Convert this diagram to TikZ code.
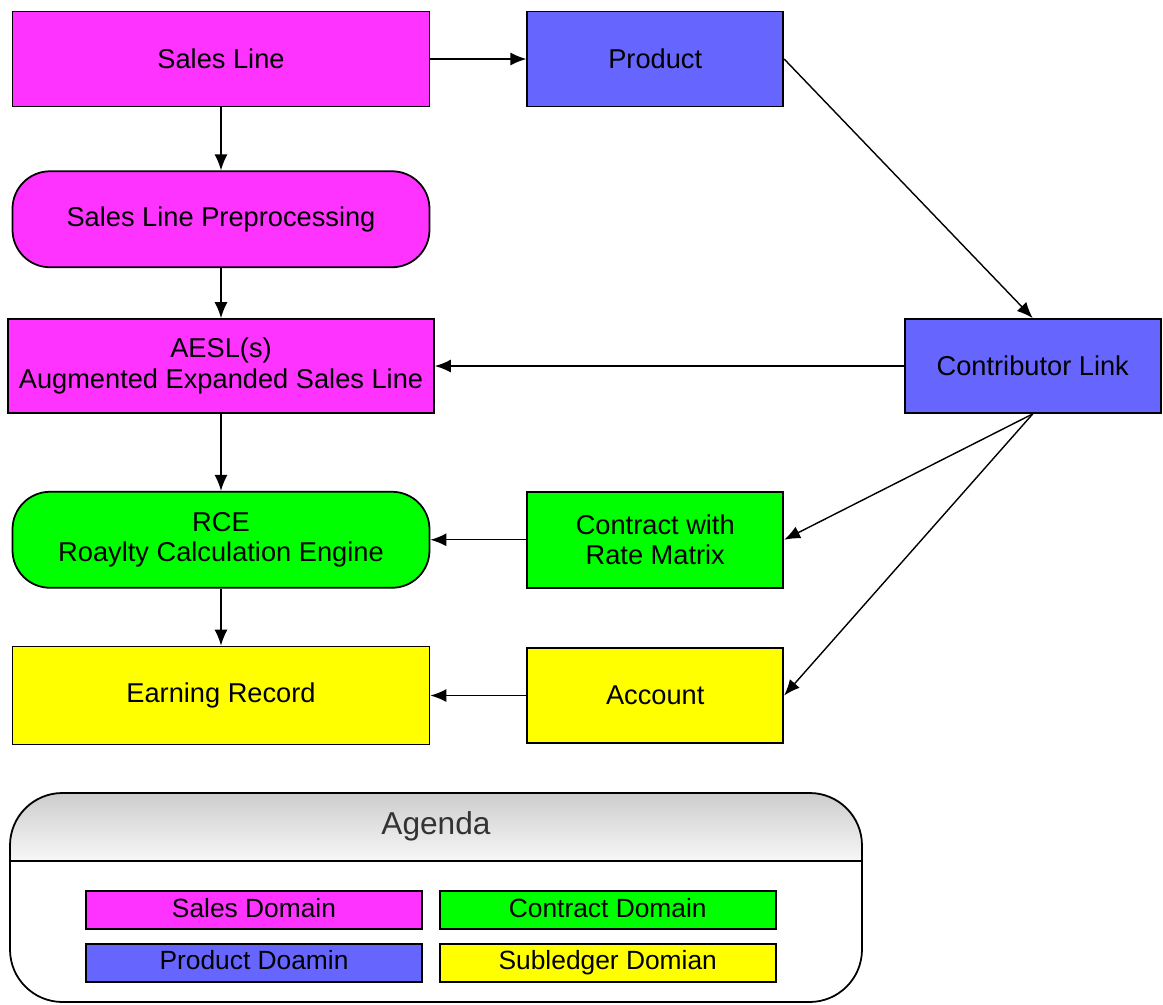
\documentclass[tikz,border=0pt]{standalone}
\usepackage{fontspec}
\setmainfont{Liberation Sans}
\usepackage{xcolor}
\usepackage{tikz}
\usetikzlibrary{arrows.meta, positioning, calc, backgrounds}
\definecolor{salesPink}{RGB}{255, 51, 255}
\definecolor{productBlue}{RGB}{102, 102, 255}
\definecolor{contractGreen}{RGB}{0, 255, 0}
\definecolor{ledgerYellow}{RGB}{255, 255, 0}

\begin{document}
\begin{tikzpicture}[
    box/.style={rectangle, draw=black, line width=1pt, minimum width=8.34cm, minimum height=1.9cm, align=center, font=\fontsize{15.5}{17.6}\selectfont, fill=#1},
    smallbox/.style={box=#1, minimum width=5.12cm},
    procbox/.style={box=#1, rounded corners=0.75cm, minimum height=1.92cm},
    legbox/.style={rectangle, draw=black, line width=1pt, minimum width=6.72cm, minimum height=0.76cm, inner sep=0pt, text height=11pt, text depth=3pt, font=\fontsize{15}{17}\selectfont, fill=#1},
    arrow/.style={-{Latex[length=3.2mm,width=2.6mm]}, line width=0.8pt}
]
\useasboundingbox (0,0) rectangle (23.26,-20.08);

% Sales side
\node[box=salesPink] (sales) at (4.42,-1.18) {Sales Line};
\node[smallbox=productBlue, right=1.92cm of sales] (product) {Product};
\node[procbox=salesPink, below=1.26cm of sales] (prep) {Sales Line Preprocessing};
\node[box=salesPink, minimum width=8.52cm, minimum height=1.88cm, below=1.0cm of prep] (aesl) {AESL(s)\\Augmented Expanded Sales Line};

% Product link
\node[smallbox=productBlue, minimum height=1.88cm, right=9.38cm of aesl] (contrib) {Contributor Link};

% Calculation
\node[procbox=contractGreen, below=1.54cm of aesl] (rce) {RCE\\Roaylty Calculation Engine};
\node[smallbox=contractGreen, minimum height=1.92cm, right=1.92cm of rce] (contract) {Contract with\\Rate Matrix};

% Subledger
\node[box=ledgerYellow, minimum height=1.96cm, below=1.14cm of rce] (earn) {Earning Record};
\node[smallbox=ledgerYellow, right=1.92cm of earn] (account) {Account};

% Arrows
\draw[arrow] (sales) -- (product);
\draw[arrow] (sales) -- (prep);
\draw[arrow] (prep) -- (aesl);
\draw[arrow] (aesl) -- (rce);
\draw[arrow] (rce) -- (earn);
\draw[arrow] (product.east) -- (contrib.north);
\draw[arrow] (contrib) -- (aesl);
\draw[arrow] (contrib.south) -- (contract.east);
\draw[arrow] (contrib.south) -- (account.east);
\draw[arrow] (contract) -- (rce);
\draw[arrow] (account) -- (earn);

% Agenda
\node[rectangle, draw=black, line width=1pt, rounded corners=1.05cm, minimum width=17.04cm, minimum height=4.18cm] (agenda) at (8.72,-17.95) {};
\coordinate (hdr) at ($(agenda.north)+(0,-1.38)$);
\begin{scope}[on background layer]
\shade[top color=gray!40, bottom color=gray!6] (agenda.west |- hdr) [rounded corners=1.05cm] -- (agenda.north west) -- (agenda.north east) [sharp corners] -- (agenda.east |- hdr) -- cycle;
\end{scope}
\draw[line width=1pt] (agenda.west |- hdr) -- (agenda.east |- hdr);
\node[font=\fontsize{18}{20}\selectfont, text=black!80] (agtitle) at ($(agenda.north)+(0,-0.68)$) {Agenda};

\node[legbox=salesPink] (legsales) at (5.08,-18.2) {Sales Domain};
\node[legbox=contractGreen, right=0.32cm of legsales] (legcontract) {Contract Domain};
\node[legbox=productBlue, below=0.26cm of legsales] (legproduct) {Product Doamin};
\node[legbox=ledgerYellow, below=0.26cm of legcontract] (legledger) {Subledger Domian};

\end{tikzpicture}
\end{document}
